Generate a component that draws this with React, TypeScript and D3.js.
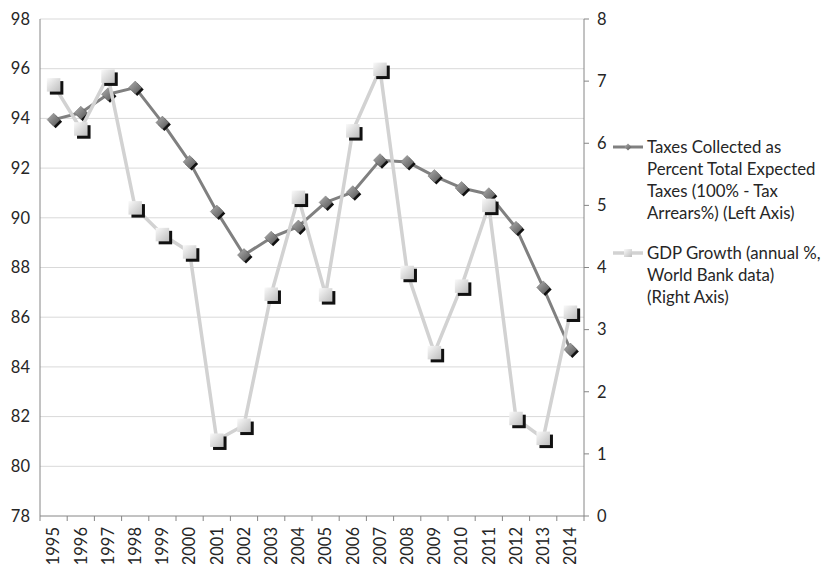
import React from "react";
import * as d3 from "d3";

const years = ["1995","1996","1997","1998","1999","2000","2001","2002","2003","2004","2005","2006","2007","2008","2009","2010","2011","2012","2013","2014"];
const taxes = [93.95, 94.23, 94.97, 95.24, 93.83, 92.25, 90.25, 88.5, 89.2, 89.65, 90.62, 91.03, 92.32, 92.25, 91.68, 91.2, 90.95, 89.6, 87.2, 84.7];
const gdp = [6.94, 6.23, 7.08, 4.96, 4.53, 4.25, 1.22, 1.46, 3.57, 5.13, 3.56, 6.2, 7.19, 3.92, 2.63, 3.7, 5.0, 1.57, 1.25, 3.28];
const leftTicks = [78, 80, 82, 84, 86, 88, 90, 92, 94, 96, 98];
const rightTicks = [0, 1, 2, 3, 4, 5, 6, 7, 8];
const legendTaxes = ["Taxes Collected as", "Percent Total Expected", "Taxes (100% - Tax", "Arrears%) (Left Axis)"];
const legendGdp = ["GDP Growth (annual %,", "World Bank data)", "(Right Axis)"];

const W = 824, H = 564;
const L = 40, R = 584, T = 19, B = 516;
const FONT = "Lato, 'Open Sans', sans-serif";
const FS = 16.5;
const FSL = 16.8;

export default function App() {
  const x = d3.scaleBand<string>().domain(years).range([L, R]);
  const yL = d3.scaleLinear().domain([78, 98]).range([B, T]);
  const yR = d3.scaleLinear().domain([0, 8]).range([B, T]);
  const cx = (i: number) => (x(years[i]) as number) + x.bandwidth() / 2;

  const lineT = d3.line<number>().x((_, i) => cx(i)).y((d) => yL(d));
  const lineG = d3.line<number>().x((_, i) => cx(i)).y((d) => yR(d));

  const sq = 13.5, sh = 3;
  const dm = 6.5;
  const diamond = (px: number, py: number, r: number) => `M${px},${py - r}L${px + r},${py}L${px},${py + r}L${px - r},${py}Z`;

  const boundaries = years.map((y) => x(y) as number).concat([R]);

  return (
    <svg width={W} height={H} style={{ position: "absolute", left: 0, top: 0, background: "#fff" }} fontFamily={FONT}>
      <defs>
        <linearGradient id="gSq" x1="0" y1="0" x2="1" y2="1">
          <stop offset="0" stopColor="#fafafa" />
          <stop offset="1" stopColor="#bdbdbd" />
        </linearGradient>
        <linearGradient id="gDm" x1="0" y1="0" x2="1" y2="1">
          <stop offset="0" stopColor="#b0b0b0" />
          <stop offset="1" stopColor="#555555" />
        </linearGradient>
      </defs>
      <rect x={0} y={0} width={W} height={H} fill="#fff" />
      {leftTicks.filter((t) => t !== 78).map((t) => (
        <line key={"g" + t} x1={L} x2={R} y1={yL(t)} y2={yL(t)} stroke="#d9d9d9" strokeWidth={1} />
      ))}
      <line x1={L} x2={L} y1={T} y2={B} stroke="#868686" strokeWidth={1} />
      <line x1={R} x2={R} y1={T} y2={B} stroke="#868686" strokeWidth={1} />
      <line x1={L} x2={R} y1={B} y2={B} stroke="#868686" strokeWidth={1} />
      {boundaries.map((bx, i) => (
        <line key={"bt" + i} x1={bx} x2={bx} y1={B} y2={B + 5} stroke="#868686" strokeWidth={1} />
      ))}
      {rightTicks.map((t) => (
        <line key={"rt" + t} x1={R} x2={R + 5} y1={yR(t)} y2={yR(t)} stroke="#868686" strokeWidth={1} />
      ))}
      {leftTicks.map((t) => (
        <text key={"lt" + t} x={30} y={yL(t)} dy="0.35em" textAnchor="end" fontSize={FS} fill="#262626">{t}</text>
      ))}
      {rightTicks.map((t) => (
        <text key={"rl" + t} x={597} y={yR(t)} dy="0.35em" textAnchor="start" fontSize={FS} fill="#262626">{t}</text>
      ))}
      {years.map((yr, i) => (
        <text key={"xl" + yr} transform={`translate(${cx(i)},${B + 11}) rotate(-90)`} dy="0.35em" textAnchor="end" fontSize={FS} fill="#262626">{yr}</text>
      ))}
      <path d={lineT(taxes) as string} fill="none" stroke="#808080" strokeWidth={3} strokeLinejoin="round" />
      {taxes.map((v, i) => (
        <g key={"dm" + i}>
          <path d={diamond(cx(i) + 2, yL(v) + 2, dm)} fill="#111" />
          <path d={diamond(cx(i), yL(v), dm)} fill="url(#gDm)" stroke="#6e6e6e" strokeWidth={0.5} />
        </g>
      ))}
      <path d={lineG(gdp) as string} fill="none" stroke="#d2d2d2" strokeWidth={3.5} strokeLinejoin="round" />
      {gdp.map((v, i) => (
        <g key={"sq" + i}>
          <rect x={cx(i) - sq / 2 + sh} y={yR(v) - sq / 2 + sh} width={sq} height={sq} fill="#111" />
          <rect x={cx(i) - sq / 2} y={yR(v) - sq / 2} width={sq} height={sq} fill="url(#gSq)" />
        </g>
      ))}
      <line x1={613} x2={643} y1={147} y2={147} stroke="#808080" strokeWidth={3} />
      <path d={diamond(628, 147, 3.5)} fill="url(#gDm)" />
      {legendTaxes.map((s, i) => (
        <text key={"lg1" + i} x={647} y={147 + i * 22.2} dy="0.35em" fontSize={FSL} fill="#262626">{s}</text>
      ))}
      <line x1={613} x2={643} y1={253} y2={253} stroke="#d2d2d2" strokeWidth={3.5} />
      <rect x={624} y={249} width={8} height={8} fill="url(#gSq)" />
      {legendGdp.map((s, i) => (
        <text key={"lg2" + i} x={647} y={253 + i * 22.2} dy="0.35em" fontSize={FSL} fill="#262626">{s}</text>
      ))}
    </svg>
  );
}
